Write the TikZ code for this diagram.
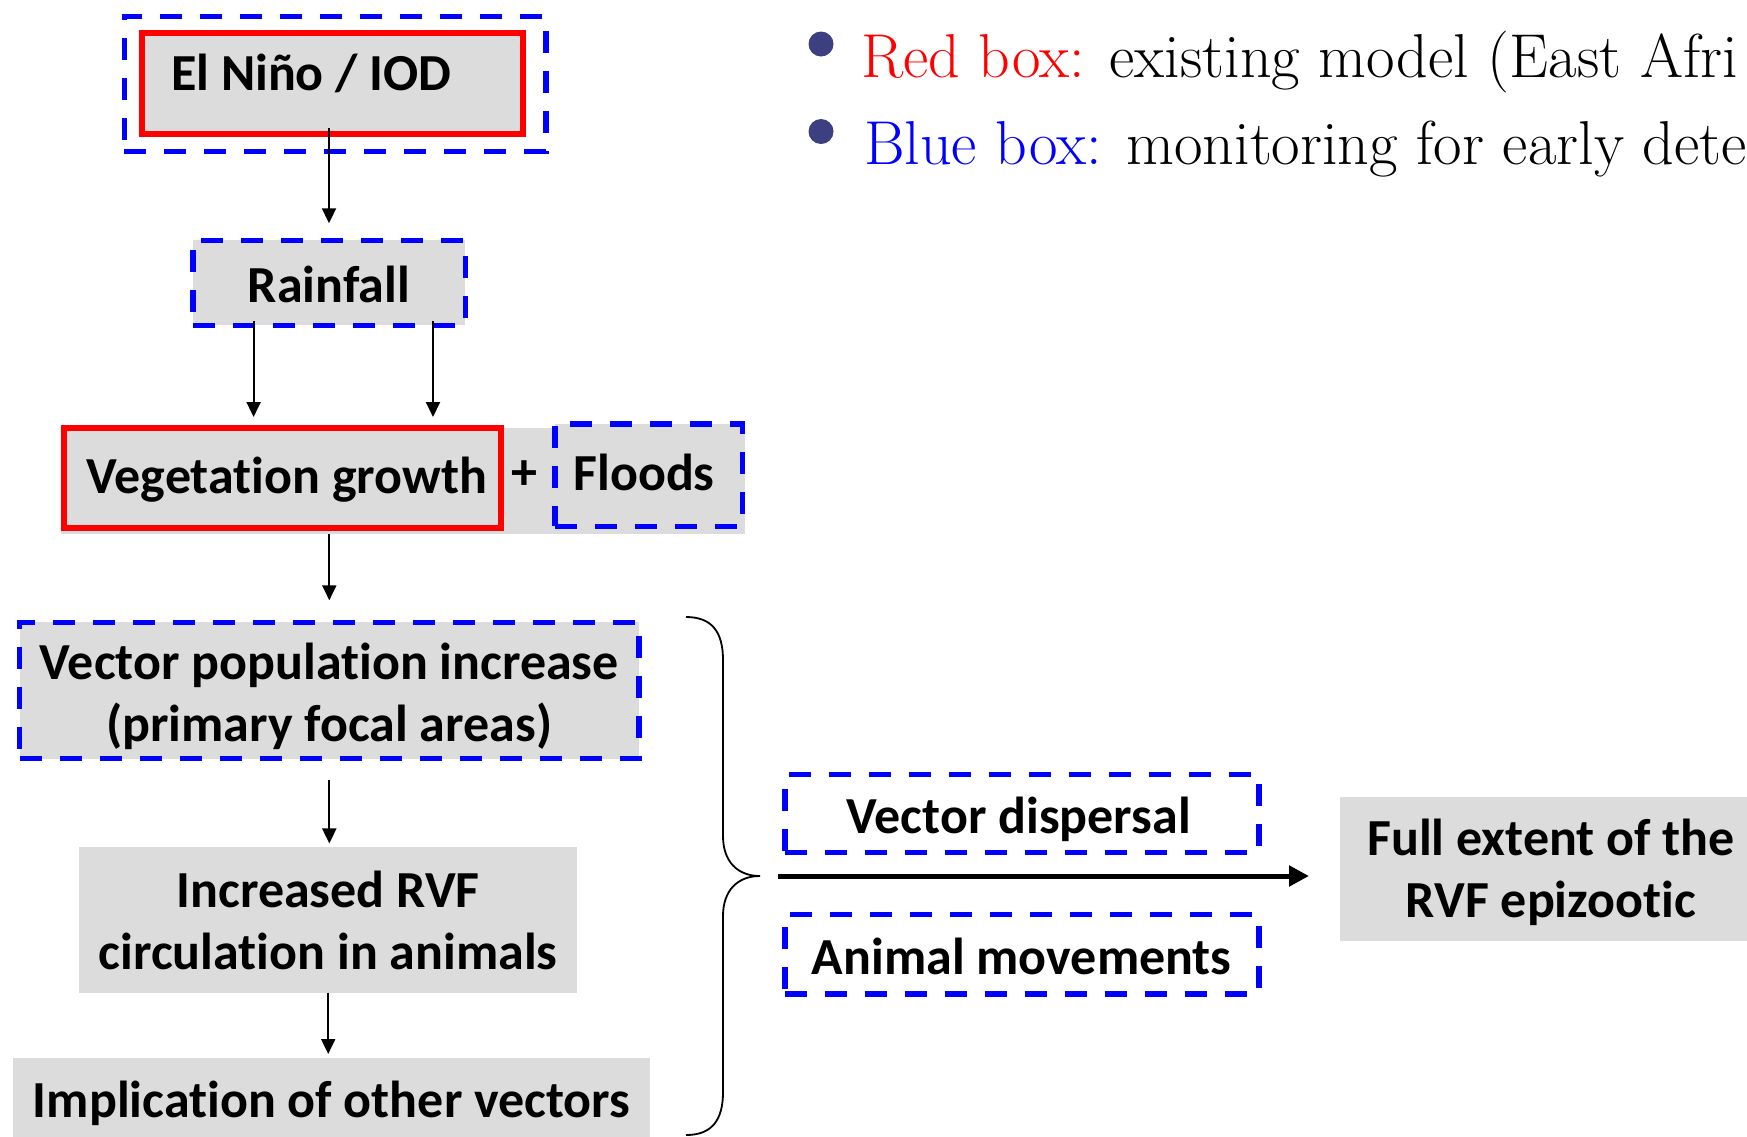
\documentclass[tikz,border=0pt]{standalone}
\usepackage{fontspec}
\newfontfamily\boxfont{Carlito}[Ligatures=NoCommon]
\usetikzlibrary{arrows.meta}
\definecolor{boxgray}{HTML}{DCDCDC}
\definecolor{bulletblue}{RGB}{60,64,128}
\tikzset{
  basetext/.style={font=\boxfont\bfseries\fontsize{52}{62}\selectfont, text=black, inner sep=0pt, outer sep=0pt},
  txt/.style={basetext, align=center},
  one/.style={basetext, text height=34pt, text depth=4pt},
  bluebox/.style={draw=blue, line width=5.5pt, dash pattern=on 22pt off 18pt, outer sep=0pt},
  redbox/.style={draw=red, line width=6pt, outer sep=0pt},
  grayfill/.style={fill=boxgray, outer sep=0pt},
  arr/.style={-{Triangle[length=15pt,width=14pt]}, line width=2pt, black},
  bigarr/.style={-{Triangle[length=20pt,width=20pt]}, line width=5pt, black},
  bulletdot/.style={circle, fill=bulletblue, minimum size=25pt, inner sep=0pt},
  bullettext/.style={anchor=base west, inner sep=0pt, font=\fontsize{62}{74}\selectfont, text=black}
}
\begin{document}
\begin{tikzpicture}[x=1pt,y=-1pt]
\path[use as bounding box] (0,0) rectangle (1747,1136);
\clip (0,0) rectangle (1747,1136);
\fill[white] (0,0) rectangle (1747,1136);

% El Nino
\node[bluebox, minimum width=421.5pt, minimum height=135pt] (elninoframe) at (335,83.75) {};
\node[redbox, grayfill, minimum width=380.7pt, minimum height=100.5pt] (elnino) at (332.2,83.25) {};
\node[one, anchor=base] (elninotext) at (311.3,90) {El Niño / IOD};

% Rainfall
\node[bluebox, grayfill, one, text height=44pt, minimum width=272.5pt, minimum height=85pt] (rain) at (329,282.8) {Rainfall};

% Vegetation + Floods
\node[grayfill, minimum width=684pt, minimum height=106pt] (vegbg) at (403,481) {};
\node[redbox, grayfill, one, minimum width=437pt, minimum height=100pt] (veg) at (282.5,478) {\hspace*{9pt}Vegetation growth};
\node[one] (plus) at (524,474) {+};
\node[bluebox, grayfill, one, minimum width=187.5pt, minimum height=102.5pt] (floods) at (648.5,475) {Floods\hspace*{9pt}};

% Left column
\node[bluebox, grayfill, txt, minimum width=619.5pt, minimum height=136.4pt] (vecpop) at (329.3,690.5) {\rule{0pt}{50pt}Vector population increase\\(primary focal areas)\rule[-11pt]{0pt}{11pt}};
\node[grayfill, txt, minimum width=498.5pt, minimum height=145.5pt] (rvf) at (328.2,920.2) {Increased RVF\\circulation in animals};
\node[grayfill, one, minimum width=637.7pt, minimum height=88pt] (impl) at (331.6,1102) {Implication of other vectors};

% Right side
\node[bluebox, one, text height=44pt, minimum width=474pt, minimum height=77.8pt] (disp) at (1021.8,813.4) {Vector dispersal\hspace*{6pt}};
\node[bluebox, one, text height=44pt, minimum width=474pt, minimum height=79.5pt] (anim) at (1021.8,954.2) {Animal movements};
\node[grayfill, txt, minimum width=422pt, minimum height=144pt] (full) at (1551,868.7) {\rule{0pt}{46pt}Full extent of the\\RVF epizootic\rule[-11.4pt]{0pt}{11.4pt}};

% Legend
\node[bulletdot] (b1) at (821,44) {};
\node[bulletdot] (b2) at (821,131.5) {};
\node[bullettext] (l1) at (861,77) {\textcolor{red}{Red box:} existing model (East Afri};
\node[bullettext] (l2) at (864,164) {\textcolor{blue}{Blue box:} monitoring for early dete};

% Arrows
\draw[arr, shorten <=-5.5pt, shorten >=17pt] (elnino.south -| rain.north) -- (rain.north);
\draw[arr, shorten <=-4pt, shorten >=11pt] ([xshift=-75.4pt]rain.south) -- ([xshift=-75.4pt]rain.south |- veg.north);
\draw[arr, shorten <=-4pt, shorten >=11pt] ([xshift=104pt]rain.south) -- ([xshift=104pt]rain.south |- veg.north);
\draw[arr, shorten >=22pt] (vegbg.south -| vecpop.north) -- (vecpop.north);
\draw[arr, shorten <=21pt, shorten >=4pt] (vecpop.south) -- (vecpop.south |- rvf.north);
\draw[arr, shorten >=4pt] (rvf.south) -- (rvf.south |- impl.north);

% Brace
\coordinate (tip) at (760,876);
\draw[line width=1.8pt] (686,617) .. controls (712,617) and (723,632) .. (723,660) -- (723,836)
  .. controls (723,862) and (738,876) .. (tip)
  .. controls (738,876) and (723,890) .. (723,916) -- (723,1092)
  .. controls (723,1120) and (712,1135) .. (686,1135);

\draw[bigarr, shorten <=18pt, shorten >=31pt] (tip) -- (tip -| full.west);
\end{tikzpicture}
\end{document}
